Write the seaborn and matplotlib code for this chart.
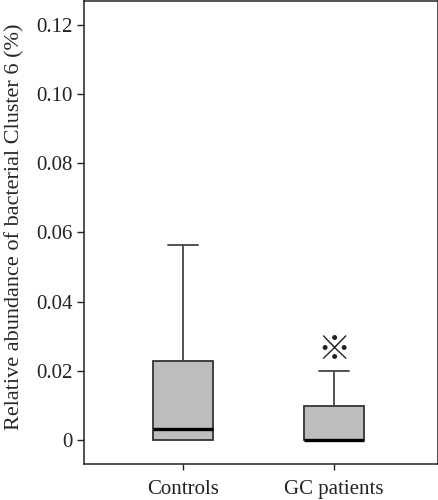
import matplotlib
matplotlib.use("Agg")
import matplotlib.pyplot as plt
import seaborn as sns
import pandas as pd
import numpy as np

# Five-number summaries: [min, Q1, median, Q3, max]
groups = ["Controls", "GC patients"]
controls_summary = [0.0, 0.0, 0.0031, 0.0229, 0.0563]
gc_summary = [0.0, 0.0, 0.0, 0.0097, 0.0198]
marker_value = 0.0258
y_ticks = [0, 0.02, 0.04, 0.06, 0.08, 0.10, 0.12]
y_tick_labels = ["0", "0.02", "0.04", "0.06", "0.08", "0.10", "0.12"]

df = pd.DataFrame({
    "group": [groups[0]] * len(controls_summary) + [groups[1]] * len(gc_summary),
    "value": controls_summary + gc_summary,
})

sns.set_style("ticks")
plt.rcParams["font.family"] = ["Liberation Serif", "DejaVu Serif"]

fig = plt.figure(figsize=(4.39, 5.0), dpi=100)
ax = fig.add_axes([0.192, 0.073, 0.806, 0.925])

sns.boxplot(
    data=df, x="group", y="value", order=groups, ax=ax,
    whis=np.inf, width=0.40, color="#bdbdc0", saturation=1,
    linewidth=1.3, linecolor="#333333",
    medianprops=dict(color="black", linewidth=2.4),
    whiskerprops=dict(color="#444444", linewidth=1.3),
    capprops=dict(color="#444444", linewidth=1.3),
    showfliers=False,
)

ax.text(1, marker_value, "※", ha="center", va="center", fontsize=24,
        family=["Noto Sans CJK JP", "DejaVu Sans"], color="#222222")

ax.set_xlim(-0.656, 1.69)
ax.set_ylim(-0.0069, 0.127)
ax.set_yticks(y_ticks)
ax.set_yticklabels(y_tick_labels)
ax.set_xlabel("")
ax.set_ylabel("Relative abundance of bacterial Cluster 6 (%)", fontsize=16)
ax.yaxis.set_label_coords(-0.17, 0.511)
ax.tick_params(axis="both", labelsize=15, length=5, width=1, color="#222222", labelcolor="#222222")
ax.tick_params(axis="x", pad=8, length=4)
for s in ax.spines.values():
    s.set_visible(True)
    s.set_linewidth(1.1)
    s.set_color("#222222")

fig.savefig("out.png", dpi=100)
